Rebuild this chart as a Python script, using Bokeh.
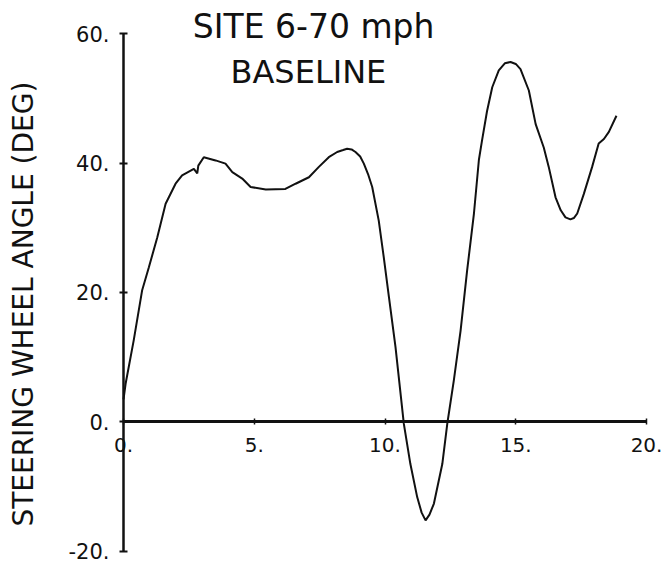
import math
from bokeh.plotting import figure
from bokeh.models import LinearAxis, FixedTicker, Range1d, Label
from bokeh.embed import file_html
from bokeh.resources import INLINE

# ---- data ----
time_s = [0.0, 0.08, 0.39, 0.71, 0.97, 1.29, 1.61, 1.99, 2.24, 2.69, 2.82, 2.86, 3.07,
          3.52, 3.90, 4.16, 4.54, 4.86, 5.44, 6.19, 6.58, 7.09, 7.47, 7.85, 8.17,
          8.40, 8.55, 8.72, 8.87, 9.05, 9.19, 9.35, 9.51, 9.76, 9.95, 10.15, 10.40,
          10.72, 10.97, 11.23, 11.40, 11.55, 11.70, 11.87, 12.19, 12.38, 12.63,
          12.89, 13.14, 13.40, 13.59, 13.71, 13.90, 14.10, 14.35, 14.58, 14.80,
          15.00, 15.18, 15.50, 15.76, 16.07, 16.26, 16.52, 16.72, 16.90, 17.09,
          17.22, 17.35, 17.60, 17.92, 18.17, 18.37, 18.56, 18.85]
angle_deg = [3.5, 5.9, 12.6, 20.3, 23.9, 28.5, 33.7, 36.8, 38.1, 39.1, 38.4, 39.6, 40.9,
             40.4, 39.9, 38.6, 37.6, 36.3, 35.9, 36.0, 36.8, 37.8, 39.4, 40.9, 41.7,
             42.0, 42.2, 42.1, 41.7, 41.0, 39.9, 38.3, 36.3, 31.1, 25.5, 19.3, 11.6,
             -0.3, -6.5, -11.6, -14.0, -15.2, -14.3, -12.6, -6.5, -0.3, 6.4,
             14.1, 23.4, 32.2, 40.5, 43.5, 48.0, 51.7, 54.3, 55.4, 55.6,
             55.3, 54.5, 51.2, 46.0, 42.4, 39.4, 34.7, 32.7, 31.6, 31.3,
             31.5, 32.2, 35.2, 39.4, 43.0, 43.7, 44.8, 47.3]

x_ticks = [0, 5, 10, 15, 20]
x_tick_labels = ["0.", "5.", "10.", "15.", "20."]
y_ticks = [-20, 0, 20, 40, 60]
y_tick_labels = ["-20.", "0.", "20.", "40.", "60."]

title_line1 = "SITE 6-70 mph"
title_line2 = "BASELINE"
y_label = "STEERING WHEEL ANGLE (DEG)"

FONT = "DejaVu Sans"
INK = "#111111"

p = figure(width=668, height=568, output_backend="svg", toolbar_location=None,
           x_range=Range1d(-4.704, 20.84), y_range=Range1d(-22.63, 65.10),
           x_axis_type=None, y_axis_type=None, min_border=0)
p.outline_line_color = None
p.background_fill_color = "white"
p.border_fill_color = "white"

yaxis = LinearAxis(fixed_location=0, bounds=(-20, 60),
                   ticker=FixedTicker(ticks=y_ticks),
                   major_label_overrides={t: s for t, s in zip(y_ticks, y_tick_labels)},
                   major_tick_in=4, major_tick_out=4,
                   minor_tick_in=0, minor_tick_out=0,
                   axis_line_width=2.5, axis_line_color=INK,
                   major_tick_line_width=2, major_tick_line_color=INK,
                   major_label_standoff=10,
                   major_label_text_font_size="21px",
                   major_label_text_font=FONT,
                   major_label_text_color=INK)
p.add_layout(yaxis, "left")

xaxis = LinearAxis(fixed_location=0, bounds=(0, 20),
                   ticker=FixedTicker(ticks=x_ticks),
                   major_label_overrides={t: s for t, s in zip(x_ticks, x_tick_labels)},
                   major_tick_in=3, major_tick_out=3,
                   minor_tick_in=0, minor_tick_out=0,
                   axis_line_width=3, axis_line_color=INK,
                   major_tick_line_width=1.5, major_tick_line_color=INK,
                   major_label_standoff=13,
                   major_label_text_font_size="20px",
                   major_label_text_font=FONT,
                   major_label_text_color=INK)
p.add_layout(xaxis, "below")

p.line(time_s, angle_deg, line_width=2, line_color=INK)

p.add_layout(Label(x=-3.82, y=18.2, text=y_label, angle=math.pi / 2,
                   text_align="center", text_baseline="middle",
                   text_font=FONT, text_font_size="28px", text_color=INK))
p.add_layout(Label(x=7.27, y=61.1, text=title_line1,
                   text_align="center", text_baseline="middle",
                   text_font=FONT, text_font_size="33px", text_color=INK))
p.add_layout(Label(x=7.07, y=54.1, text=title_line2,
                   text_align="center", text_baseline="middle",
                   text_font=FONT, text_font_size="32px", text_color=INK))

open("out.html", "w").write(file_html(p, INLINE))
